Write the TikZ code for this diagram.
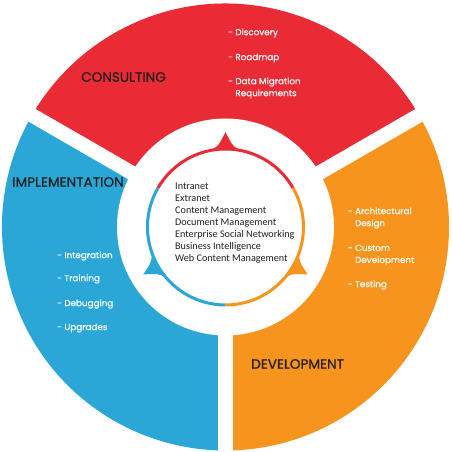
\documentclass[tikz,border=0pt]{standalone}
\usepackage{fontspec}
\setmainfont{Poppins}
\newfontfamily\innerfont{Carlito}
\newfontfamily\headfont[FakeBold=0.6]{Poppins}
\newfontfamily\itemfont[FakeBold=0.4]{Poppins}
\definecolor{csred}{RGB}{233,43,54}
\definecolor{dvorange}{RGB}{247,148,30}
\definecolor{imblue}{RGB}{42,167,214}
\definecolor{txtdark}{RGB}{35,31,32}
\tikzset{
  heading/.style={anchor=west,inner sep=0pt,text=txtdark,font=\headfont\fontsize{13.6}{15}\selectfont},
  item/.style={anchor=west,inner sep=0pt,text=white,align=left,font=\itemfont\fontsize{8.8}{12}\selectfont},
  areas/.style={anchor=west,inner sep=0pt,text=txtdark,align=left,font=\innerfont\fontsize{10.2}{12}\selectfont},
}

\begin{document}
\begin{tikzpicture}[x=1pt,y=1pt]
\useasboundingbox (-225.5,-225) rectangle (225.5,227);
% outer ring
\fill[csred] (0,0) -- (30:223.5) arc (30:150:223.5) -- cycle;
\fill[imblue] (0,0) -- (150:223.5) arc (150:270:223.5) -- cycle;
\fill[dvorange] (0,0) -- (270:223.5) arc (270:390:223.5) -- cycle;
\foreach \a in {30,150,270}
  \draw[white,line width=14.5pt] (0,0) -- (\a:225);
\fill[white] (0,0) circle (108.5);
% inner cycle
\draw[csred,line width=3pt] (30:78) arc (30:150:78);
\draw[imblue,line width=3pt] (150:78) arc (150:270:78);
\draw[dvorange,line width=3pt] (270:78) arc (270:390:78);
\foreach \a/\c in {90/csred,210/imblue,330/dvorange}
  \fill[\c] (\a-14:77) .. controls (\a-5:81) .. (\a:95)
    .. controls (\a+5:81) .. (\a+14:77) arc (\a+14:\a-14:77) -- cycle;
% headings
\node[heading] (consult) at (-144.5,150) {CONSULTING};
\node[heading] (implem) at (-213.5,45) {IMPLEMENTATION};
\node[heading] (develop) at (25.5,-137) {DEVELOPMENT};
% consulting
\node[item] (disc) at (2.5,194) {- Discovery};
\node[item] (road) at (2.5,169) {- Roadmap};
\node[item] (datam) at (2.5,139) {- Data Migration\\\phantom{- }Requirements};
% implementation
\node[item] (integ) at (-168.5,-29) {- Integration};
\node[item] (train) at (-168.5,-52) {- Training};
\node[item] (debug) at (-168.5,-77) {- Debugging};
\node[item] (upgr) at (-168.5,-101) {- Upgrades};
% development
\node[item] (arch) at (122.2,9) {- Architectural\\\phantom{- }Design};
\node[item] (custom) at (122.2,-28) {- Custom\\\phantom{- }Development};
\node[item] (test) at (122.2,-58) {- Testing};
% centre
\node[areas] (intra) at (-50.5,4.2) {Intranet\\Extranet\\Content Management\\Document Management\\Enterprise Social Networking\\Business Intelligence\\Web Content Management};
\end{tikzpicture}
\end{document}
